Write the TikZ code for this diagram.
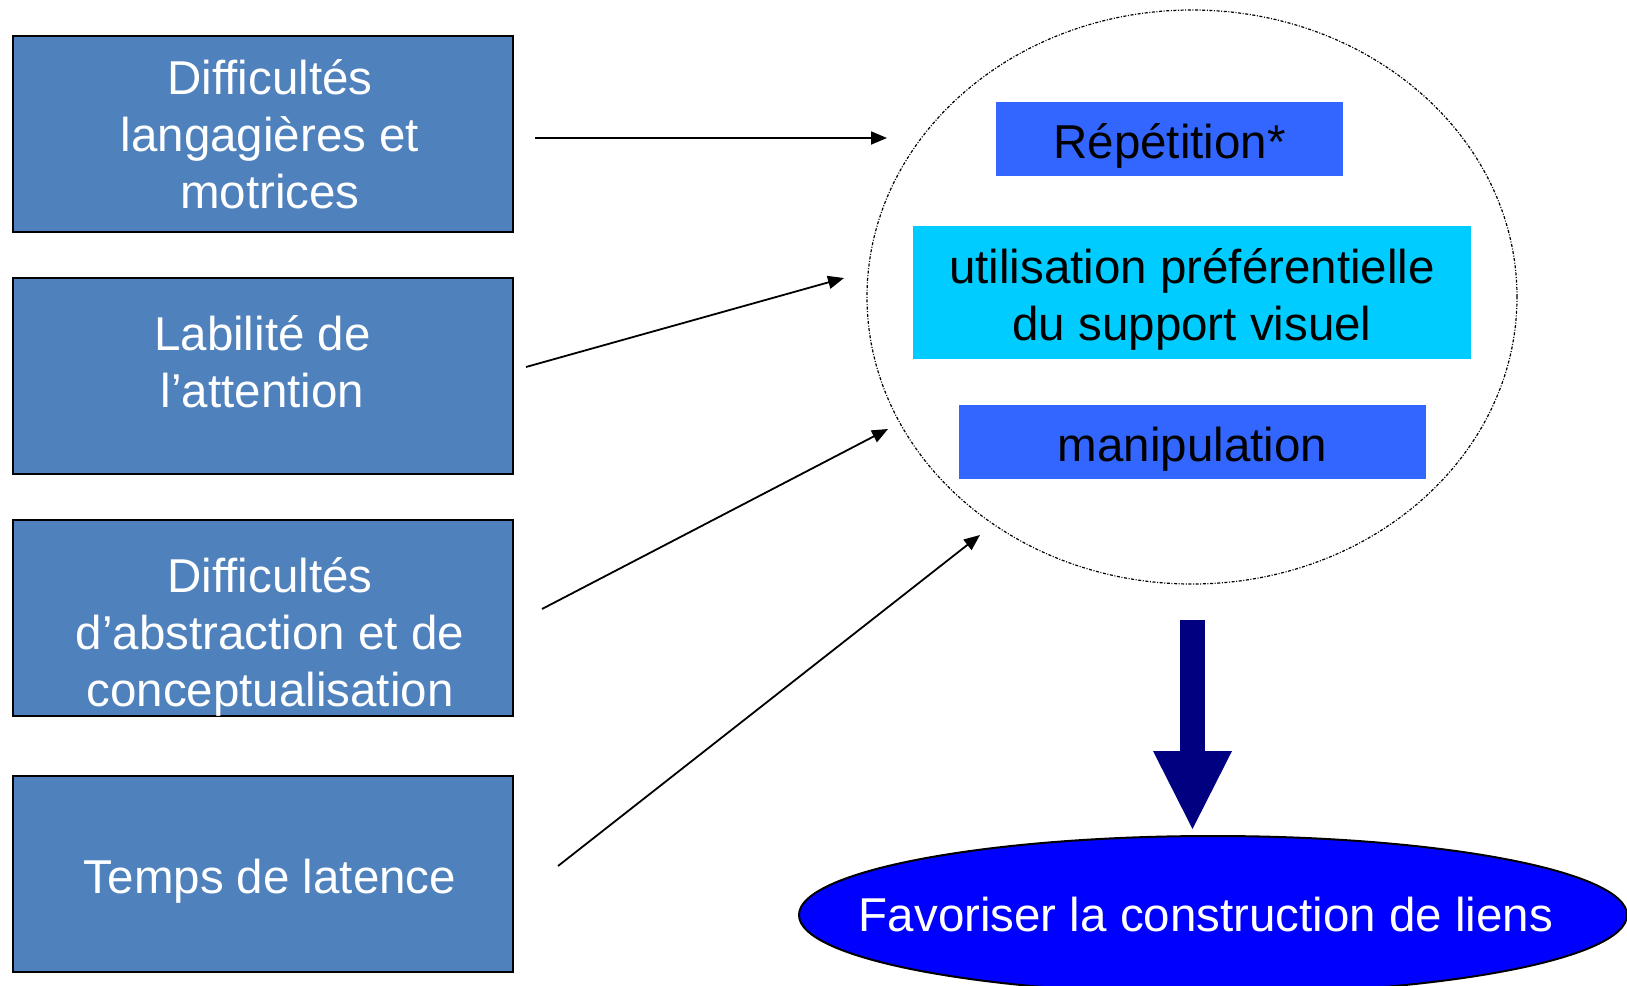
\documentclass[tikz,border=0pt]{standalone}
\usepackage{fontspec}
\setmainfont{Liberation Sans}
\usetikzlibrary{arrows.meta,shapes.geometric,calc}
\definecolor{boxblue}{HTML}{4F81BD}
\definecolor{repblue}{HTML}{3366FF}
\definecolor{cyanbox}{HTML}{00CCFF}
\definecolor{navyarrow}{HTML}{000080}
\definecolor{goalblue}{HTML}{0000FF}
\begin{document}
\begin{tikzpicture}[x=1pt,y=-1pt,
  bigfont/.style={font=\fontsize{47.5}{57}\selectfont},
  leftbox/.style={draw=black, line width=2pt, fill=boxblue, minimum width=500pt, minimum height=196pt, inner sep=0pt},
  lefttext/.style={bigfont, text=white, align=center, inner sep=0pt},
  innerbox/.style={inner sep=0pt},
  innertext/.style={bigfont, text=black, align=center, inner sep=0pt},
  conn/.style={line width=1.8pt, -{Triangle[length=16pt,width=13pt]}},
  cloud/.style={draw=black, ellipse, line width=1.2pt, dash pattern=on 3pt off 1.6pt on 1pt off 1.6pt, inner sep=0pt},
  bigarrow/.style={navyarrow, line width=25pt, -{Triangle[length=78pt,width=79pt,line width=0pt]}},
  goal/.style={ellipse, draw=black, line width=2pt, fill=goalblue, text=white, bigfont, inner sep=0pt}
]
\useasboundingbox (0,0) rectangle (1627,985);

% left boxes
\node[leftbox] (b1) at (262.5,134) {};
\node[leftbox] (b2) at (262.5,376) {};
\node[leftbox] (b3) at (262.5,618) {};
\node[leftbox] (b4) at (262.5,874) {};
\node[lefttext] (t1) at (270,134) {Difficultés\\langagières et\\motrices};
\node[lefttext] (t2) at (262.5,362) {Labilité de\\l’attention};
\node[lefttext] (t3) at (270,637) {Difficultés\\d’abstraction et de\\conceptualisation};
\node[lefttext] (t4) at (270,881) {Temps de latence};

% dashed cloud
\node[cloud, minimum width=650pt, minimum height=574pt] (circ) at (1192,297) {};
\node[innerbox, fill=repblue, minimum width=347pt, minimum height=74pt] (r1) at (1169.5,139) {};
\node[innerbox, fill=cyanbox, minimum width=558pt, minimum height=133pt] (r2) at (1192,292.5) {};
\node[innerbox, fill=repblue, minimum width=467pt, minimum height=74pt] (r3) at (1192.5,442) {};
\node[innertext] (r1t) at ([yshift=-7pt]r1.center) {Répétition*};
\node[innertext] (r2t) at ([yshift=-7pt]r2.center) {utilisation préférentielle\\du support visuel};
\node[innertext] (r3t) at ([yshift=-7pt]r3.center) {manipulation};

% connectors
\coordinate (s1) at (535,138);
\coordinate (e1) at (887,138);
\coordinate (s2) at (526,367);
\coordinate (e2) at (844,278);
\coordinate (s3) at (542,609);
\coordinate (e3) at (888,429);
\coordinate (s4) at (558,866);
\coordinate (e4) at (980,535);
\draw[conn] (s1) -- (e1);
\draw[conn] (s2) -- (e2);
\draw[conn] (s3) -- (e3);
\draw[conn] (s4) -- (e4);

% goal
\node[goal, minimum width=828pt, minimum height=158pt] (g) at (1213,915) {\makebox[0pt]{\hspace*{-14pt}Favoriser la construction de liens}};
\coordinate (bs) at (1192.5,620);
\draw[bigarrow] (bs) -- (bs |- g.north) [shorten >=6pt];
\end{tikzpicture}
\end{document}
